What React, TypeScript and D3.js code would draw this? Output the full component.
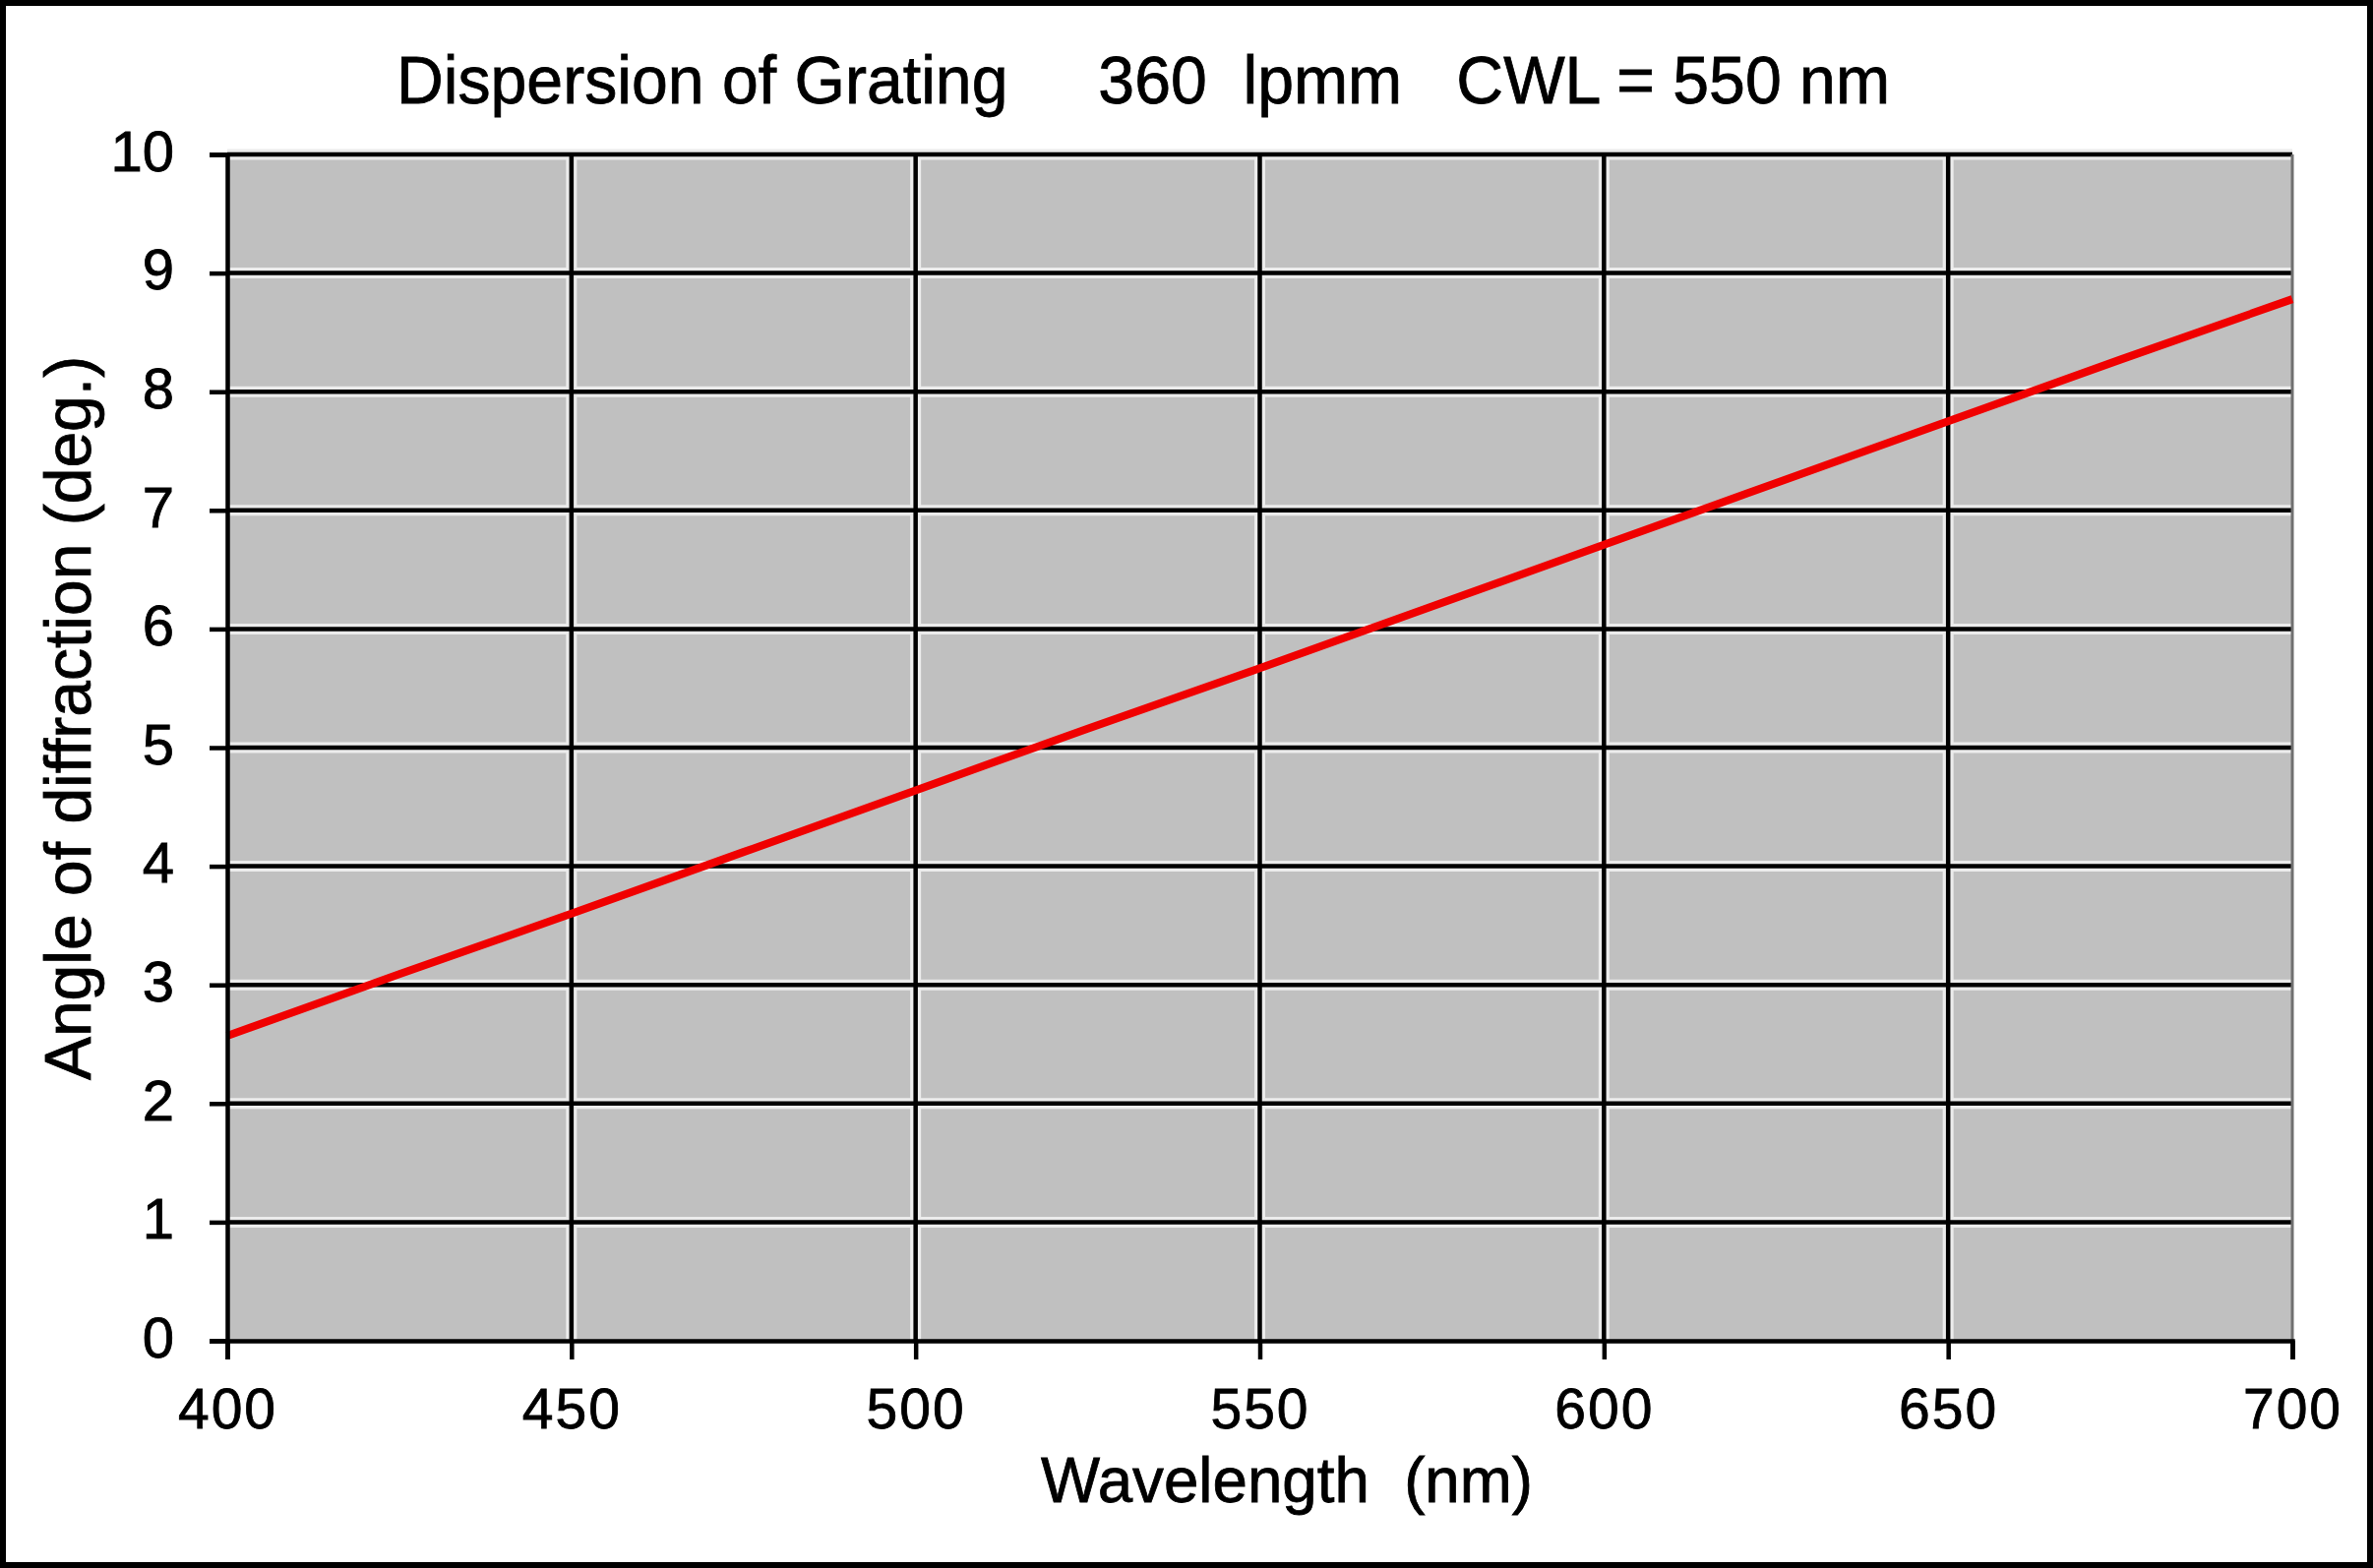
import * as React from 'react';
import * as d3 from 'd3';

const wavelengths = [400, 425, 450, 475, 500, 525, 550, 575, 600, 625, 650, 675, 700];
const angles = [2.57, 3.09, 3.6, 4.12, 4.64, 5.16, 5.67, 6.19, 6.71, 7.23, 7.75, 8.27, 8.78];
const xTicks = [400, 450, 500, 550, 600, 650, 700];
const yTicks = [0, 1, 2, 3, 4, 5, 6, 7, 8, 9, 10];
const titleText = 'Dispersion of Grating     360  lpmm   CWL = 550 nm';

const W = 2412;
const H = 1594;
const FONT = '"Liberation Sans", Arial, sans-serif';

export default function App() {
    const ref = React.useRef<SVGSVGElement>(null);

    React.useEffect(() => {
        const margin = { top: 157, right: 82, bottom: 231, left: 231 };
        const svg = d3.select(ref.current);
        svg.selectAll('*').remove();

        const x = d3.scaleLinear().domain([400, 700]).range([margin.left, W - margin.right]);
        const y = d3.scaleLinear().domain([0, 10]).range([H - margin.bottom, margin.top]);

        svg.append('rect').attr('width', W).attr('height', H).attr('fill', '#fff');
        svg.append('rect')
            .attr('x', 3).attr('y', 3)
            .attr('width', W - 6).attr('height', H - 6)
            .attr('fill', 'none').attr('stroke', '#000').attr('stroke-width', 6);

        // plot area
        svg.append('rect')
            .attr('x', x(400)).attr('y', y(10))
            .attr('width', x(700) - x(400)).attr('height', y(0) - y(10))
            .attr('fill', '#c0c0c0');

        const grid = svg.append('g');
        // light halo like the original
        grid.selectAll('.hh').data(yTicks.slice(1)).enter().append('line')
            .attr('x1', x(400)).attr('x2', x(700))
            .attr('y1', d => y(d)).attr('y2', d => y(d))
            .attr('stroke', '#ececec').attr('stroke-width', 11);
        grid.selectAll('.vh').data(xTicks.slice(1, -1)).enter().append('line')
            .attr('x1', d => x(d)).attr('x2', d => x(d))
            .attr('y1', y(10)).attr('y2', y(0))
            .attr('stroke', '#ececec').attr('stroke-width', 11);
        grid.selectAll('.h').data(yTicks.slice(1)).enter().append('line')
            .attr('x1', x(400)).attr('x2', x(700))
            .attr('y1', d => y(d)).attr('y2', d => y(d))
            .attr('stroke', '#000').attr('stroke-width', 4.5);
        grid.selectAll('.v').data(xTicks.slice(1, -1)).enter().append('line')
            .attr('x1', d => x(d)).attr('x2', d => x(d))
            .attr('y1', y(10)).attr('y2', y(0))
            .attr('stroke', '#000').attr('stroke-width', 4.5);
        // right edge
        svg.append('line')
            .attr('x1', x(700)).attr('x2', x(700))
            .attr('y1', y(10)).attr('y2', y(0))
            .attr('stroke', '#707070').attr('stroke-width', 3);

        // data line
        const line = d3.line<number>()
            .x((d, i) => x(wavelengths[i]))
            .y(d => y(d));
        svg.append('path')
            .datum(angles)
            .attr('d', line)
            .attr('fill', 'none')
            .attr('stroke', '#f00000')
            .attr('stroke-width', 8);

        // axes
        const xAxis = d3.axisBottom(x).tickValues(xTicks).tickSize(19).tickPadding(30).tickFormat(d3.format('d'));
        const gx = svg.append('g')
            .attr('transform', 'translate(0,' + y(0) + ')')
            .call(xAxis);
        gx.select('.domain').attr('stroke', '#000').attr('stroke-width', 4.5);
        gx.selectAll('.tick line').attr('stroke', '#000').attr('stroke-width', 4.5);
        gx.selectAll('.tick text')
            .attr('fill', '#000')
            .attr('stroke', '#000').attr('stroke-width', 0.8)
            .style('font-family', FONT)
            .style('font-size', '57px')
            .style('letter-spacing', '2px');

        const yAxis = d3.axisLeft(y).tickValues(yTicks).tickSize(18).tickPadding(36).tickFormat(d3.format('d'));
        const gy = svg.append('g')
            .attr('transform', 'translate(' + x(400) + ',0)')
            .call(yAxis);
        gy.select('.domain').attr('stroke', '#000').attr('stroke-width', 4.5);
        gy.selectAll('.tick line').attr('stroke', '#000').attr('stroke-width', 4.5);
        gy.selectAll('.tick text')
            .attr('fill', '#000')
            .attr('stroke', '#000').attr('stroke-width', 0.8)
            .attr('dy', '0.28em')
            .style('font-family', FONT)
            .style('font-size', '58px');

        // titles
        svg.append('text')
            .attr('x', 403).attr('y', 105)
            .attr('textLength', 1518)
            .attr('lengthAdjust', 'spacingAndGlyphs')
            .attr('stroke', '#000').attr('stroke-width', 0.8)
            .style('white-space', 'pre')
            .style('font-family', FONT)
            .style('font-size', '69px')
            .text(titleText);

        svg.append('text')
            .attr('x', 1058).attr('y', 1527)
            .attr('textLength', 500)
            .attr('lengthAdjust', 'spacingAndGlyphs')
            .attr('stroke', '#000').attr('stroke-width', 0.8)
            .style('white-space', 'pre')
            .style('font-family', FONT)
            .style('font-size', '65px')
            .text('Wavelength  (nm)');

        svg.append('text')
            .attr('transform', 'translate(92,' + 730 + ') rotate(-90)')
            .attr('text-anchor', 'middle')
            .attr('stroke', '#000').attr('stroke-width', 0.8)
            .style('font-family', FONT)
            .style('font-size', '66px')
            .text('Angle of diffraction (deg.)');
    }, []);

    return (
        <svg
            ref={ref}
            width={W}
            height={H}
            style={{ position: 'absolute', left: 0, top: 0, display: 'block' }}
        />
    );
}
